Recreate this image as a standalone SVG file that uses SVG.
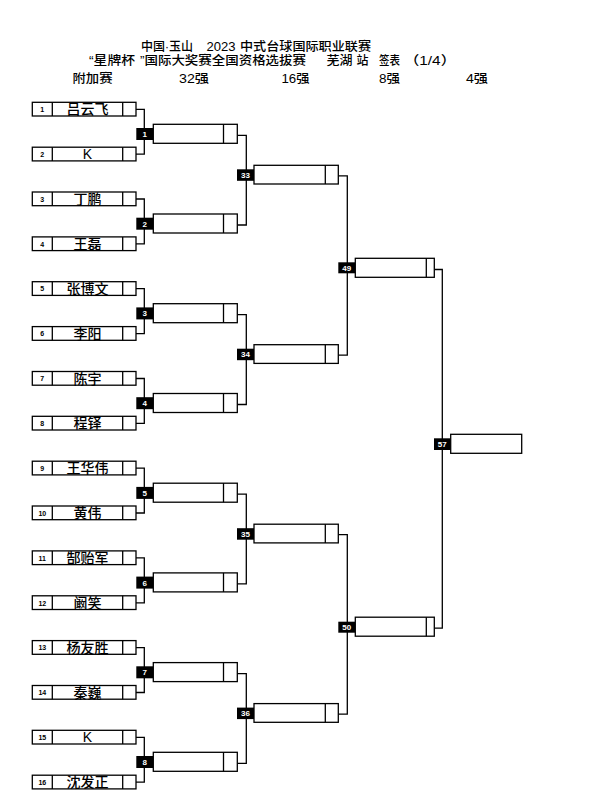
<svg xmlns="http://www.w3.org/2000/svg" width="599" height="806" viewBox="0 0 599 806">
<style>
.bx{fill:#fff;stroke:#000;stroke-width:1.3}
.dv{stroke:#000;stroke-width:1.3}
.ln{fill:none;stroke:#000;stroke-width:1.3}
.lb{fill:#000}
.lt{fill:#fff;font-family:"Liberation Sans",Arial,sans-serif;font-weight:bold;font-size:8px;text-anchor:middle}
.rn{fill:#000;font-family:"Liberation Sans",Arial,sans-serif;font-weight:bold;font-size:7px;text-anchor:middle}
.nm{fill:#000;font-family:"Liberation Sans","Noto Sans CJK SC",sans-serif;font-size:14px;font-weight:500;text-anchor:middle}
.hd{fill:#000;font-family:"Liberation Sans","Noto Sans CJK SC",sans-serif;font-size:12.5px;font-weight:500}
</style>
<rect width="599" height="806" fill="#fff"/>
<g id="header">
<text class="hd" x="141" y="51" textLength="52" lengthAdjust="spacingAndGlyphs">中国·玉山</text>
<text class="hd" x="206.5" y="51" textLength="29" lengthAdjust="spacingAndGlyphs">2023</text>
<text class="hd" x="240" y="51" textLength="131" lengthAdjust="spacingAndGlyphs">中式台球国际职业联赛</text>
<text class="hd" x="89" y="64.5" textLength="46" lengthAdjust="spacingAndGlyphs">“星牌杯</text>
<text class="hd" x="140" y="64.5" textLength="166" lengthAdjust="spacingAndGlyphs">”国际大奖赛全国资格选拔赛</text>
<text class="hd" x="326.5" y="64.5" textLength="26" lengthAdjust="spacingAndGlyphs">芜湖</text>
<text class="hd" x="356.5" y="64.5" textLength="12" lengthAdjust="spacingAndGlyphs">站</text>
<text class="hd" x="379" y="64.5" textLength="21" lengthAdjust="spacingAndGlyphs">签表</text>
<text class="hd" x="404" y="64.5" textLength="52" lengthAdjust="spacingAndGlyphs">（1/4）</text>
<text class="hd" x="72.5" y="83" textLength="40" lengthAdjust="spacingAndGlyphs">附加赛</text>
<text class="hd" x="179" y="83" textLength="30" lengthAdjust="spacingAndGlyphs">32强</text>
<text class="hd" x="281.5" y="83" textLength="28" lengthAdjust="spacingAndGlyphs">16强</text>
<text class="hd" x="379" y="83" textLength="21" lengthAdjust="spacingAndGlyphs">8强</text>
<text class="hd" x="466" y="83" textLength="22" lengthAdjust="spacingAndGlyphs">4强</text>
</g>
<g id="connectors">
<path class="ln" d="M136 109.3H144.3V154.2H136M136 199H144.3V243.9H136"/>
<path class="ln" d="M136 288.7H144.3V333.6H136M136 378.5H144.3V423.3H136M136 468.2H144.3V513H136M136 557.9H144.3V602.8H136M136 647.6H144.3V692.5H136M136 737.3H144.3V782.2H136"/>
<path class="ln" d="M237.3 135.3H246.3V225H237.3M237.3 314.7H246.3V404.5H237.3M237.3 494.2H246.3V583.9H237.3M237.3 673.6H246.3V763.3H237.3"/>
<path class="ln" d="M338.3 175.8H347.3V355.2H338.3M338.3 534.7H347.3V714.1H338.3"/>
<path class="ln" d="M434.3 269.5H442.3V628.2H434.3"/>
</g>
<g id="r1-1"><rect class="bx" x="32.3" y="102.3" width="103.7" height="13.7"/><path class="dv" d="M52.3 102.3V116M122.7 102.3V116"/><text class="rn" x="42.3" y="112">1</text><text class="nm" x="87.5" y="114.3">吕云飞</text></g>
<g id="r1-2"><rect class="bx" x="32.3" y="147.2" width="103.7" height="13.7"/><path class="dv" d="M52.3 147.2V160.9M122.7 147.2V160.9"/><text class="rn" x="42.3" y="156.9">2</text><text class="nm" x="87.5" y="159.2">K</text></g>
<g id="r1-3"><rect class="bx" x="32.3" y="192" width="103.7" height="13.7"/><path class="dv" d="M52.3 192V205.7M122.7 192V205.7"/><text class="rn" x="42.3" y="201.7">3</text><text class="nm" x="87.5" y="204">丁鹏</text></g>
<g id="r1-4"><rect class="bx" x="32.3" y="236.9" width="103.7" height="13.7"/><path class="dv" d="M52.3 236.9V250.6M122.7 236.9V250.6"/><text class="rn" x="42.3" y="246.6">4</text><text class="nm" x="87.5" y="248.9">王磊</text></g>
<g id="r1-5"><rect class="bx" x="32.3" y="281.7" width="103.7" height="13.7"/><path class="dv" d="M52.3 281.7V295.4M122.7 281.7V295.4"/><text class="rn" x="42.3" y="291.4">5</text><text class="nm" x="87.5" y="293.7">张博文</text></g>
<g id="r1-6"><rect class="bx" x="32.3" y="326.6" width="103.7" height="13.7"/><path class="dv" d="M52.3 326.6V340.3M122.7 326.6V340.3"/><text class="rn" x="42.3" y="336.3">6</text><text class="nm" x="87.5" y="338.6">李阳</text></g>
<g id="r1-7"><rect class="bx" x="32.3" y="371.5" width="103.7" height="13.7"/><path class="dv" d="M52.3 371.5V385.2M122.7 371.5V385.2"/><text class="rn" x="42.3" y="381.2">7</text><text class="nm" x="87.5" y="383.5">陈宇</text></g>
<g id="r1-8"><rect class="bx" x="32.3" y="416.3" width="103.7" height="13.7"/><path class="dv" d="M52.3 416.3V430M122.7 416.3V430"/><text class="rn" x="42.3" y="426">8</text><text class="nm" x="87.5" y="428.3">程铎</text></g>
<g id="r1-9"><rect class="bx" x="32.3" y="461.2" width="103.7" height="13.7"/><path class="dv" d="M52.3 461.2V474.9M122.7 461.2V474.9"/><text class="rn" x="42.3" y="470.9">9</text><text class="nm" x="87.5" y="473.2">王华伟</text></g>
<g id="r1-10"><rect class="bx" x="32.3" y="506" width="103.7" height="13.7"/><path class="dv" d="M52.3 506V519.7M122.7 506V519.7"/><text class="rn" x="42.3" y="515.7">10</text><text class="nm" x="87.5" y="518">黄伟</text></g>
<g id="r1-11"><rect class="bx" x="32.3" y="550.9" width="103.7" height="13.7"/><path class="dv" d="M52.3 550.9V564.6M122.7 550.9V564.6"/><text class="rn" x="42.3" y="560.6">11</text><text class="nm" x="87.5" y="562.9">郜贻军</text></g>
<g id="r1-12"><rect class="bx" x="32.3" y="595.8" width="103.7" height="13.7"/><path class="dv" d="M52.3 595.8V609.5M122.7 595.8V609.5"/><text class="rn" x="42.3" y="605.5">12</text><text class="nm" x="87.5" y="607.8">阚笑</text></g>
<g id="r1-13"><rect class="bx" x="32.3" y="640.6" width="103.7" height="13.7"/><path class="dv" d="M52.3 640.6V654.3M122.7 640.6V654.3"/><text class="rn" x="42.3" y="650.3">13</text><text class="nm" x="87.5" y="652.6">杨友胜</text></g>
<g id="r1-14"><rect class="bx" x="32.3" y="685.5" width="103.7" height="13.7"/><path class="dv" d="M52.3 685.5V699.2M122.7 685.5V699.2"/><text class="rn" x="42.3" y="695.2">14</text><text class="nm" x="87.5" y="697.5">秦巍</text></g>
<g id="r1-15"><rect class="bx" x="32.3" y="730.3" width="103.7" height="13.7"/><path class="dv" d="M52.3 730.3V744M122.7 730.3V744"/><text class="rn" x="42.3" y="740">15</text><text class="nm" x="87.5" y="742.3">K</text></g>
<g id="r1-16"><rect class="bx" x="32.3" y="775.2" width="103.7" height="13.7"/><path class="dv" d="M52.3 775.2V788.9M122.7 775.2V788.9"/><text class="rn" x="42.3" y="784.9">16</text><text class="nm" x="87.5" y="787.2">沈发正</text></g>
<g id="m1"><rect class="lb" x="136.3" y="128" width="17" height="12"/><text class="lt" x="144.8" y="137">1</text><rect class="bx" x="153.3" y="124.3" width="84" height="19"/><path class="dv" d="M223.5 124.3V143.3"/></g>
<g id="m2"><rect class="lb" x="136.3" y="217.7" width="17" height="12"/><text class="lt" x="144.8" y="226.7">2</text><rect class="bx" x="153.3" y="214" width="84" height="19"/><path class="dv" d="M223.5 214V233"/></g>
<g id="m3"><rect class="lb" x="136.3" y="307.4" width="17" height="12"/><text class="lt" x="144.8" y="316.4">3</text><rect class="bx" x="153.3" y="303.7" width="84" height="19"/><path class="dv" d="M223.5 303.7V322.7"/></g>
<g id="m4"><rect class="lb" x="136.3" y="397.2" width="17" height="12"/><text class="lt" x="144.8" y="406.2">4</text><rect class="bx" x="153.3" y="393.5" width="84" height="19"/><path class="dv" d="M223.5 393.5V412.5"/></g>
<g id="m5"><rect class="lb" x="136.3" y="486.9" width="17" height="12"/><text class="lt" x="144.8" y="495.9">5</text><rect class="bx" x="153.3" y="483.2" width="84" height="19"/><path class="dv" d="M223.5 483.2V502.2"/></g>
<g id="m6"><rect class="lb" x="136.3" y="576.6" width="17" height="12"/><text class="lt" x="144.8" y="585.6">6</text><rect class="bx" x="153.3" y="572.9" width="84" height="19"/><path class="dv" d="M223.5 572.9V591.9"/></g>
<g id="m7"><rect class="lb" x="136.3" y="666.3" width="17" height="12"/><text class="lt" x="144.8" y="675.3">7</text><rect class="bx" x="153.3" y="662.6" width="84" height="19"/><path class="dv" d="M223.5 662.6V681.6"/></g>
<g id="m8"><rect class="lb" x="136.3" y="756" width="17" height="12"/><text class="lt" x="144.8" y="765">8</text><rect class="bx" x="153.3" y="752.3" width="84" height="19"/><path class="dv" d="M223.5 752.3V771.3"/></g>
<g id="m33"><rect class="lb" x="237" y="169.3" width="17" height="11.5"/><text class="lt" x="245.5" y="178">33</text><rect class="bx" x="254" y="165.3" width="84.3" height="18.7"/><path class="dv" d="M325.3 165.3V184"/></g>
<g id="m34"><rect class="lb" x="237" y="348.7" width="17" height="11.5"/><text class="lt" x="245.5" y="357.4">34</text><rect class="bx" x="254" y="344.7" width="84.3" height="18.7"/><path class="dv" d="M325.3 344.7V363.4"/></g>
<g id="m35"><rect class="lb" x="237" y="528.2" width="17" height="11.5"/><text class="lt" x="245.5" y="536.9">35</text><rect class="bx" x="254" y="524.2" width="84.3" height="18.7"/><path class="dv" d="M325.3 524.2V542.9"/></g>
<g id="m36"><rect class="lb" x="237" y="707.6" width="17" height="11.5"/><text class="lt" x="245.5" y="716.3">36</text><rect class="bx" x="254" y="703.6" width="84.3" height="18.7"/><path class="dv" d="M325.3 703.6V722.3"/></g>
<g id="m49"><rect class="lb" x="338.3" y="262.3" width="17" height="11"/><text class="lt" x="346.8" y="270.8">49</text><rect class="bx" x="355.3" y="258.3" width="79" height="19"/><path class="dv" d="M426.3 258.3V277.3"/></g>
<g id="m50"><rect class="lb" x="338.3" y="621.7" width="17" height="11"/><text class="lt" x="346.8" y="630.2">50</text><rect class="bx" x="355.3" y="617.2" width="79" height="19"/><path class="dv" d="M426.3 617.2V636.2"/></g>
<g id="m57"><rect class="lb" x="434" y="438.3" width="16.7" height="11.7"/><text class="lt" x="442.3" y="447">57</text><rect class="bx" x="450.7" y="434.3" width="71" height="19"/></g>
</svg>
